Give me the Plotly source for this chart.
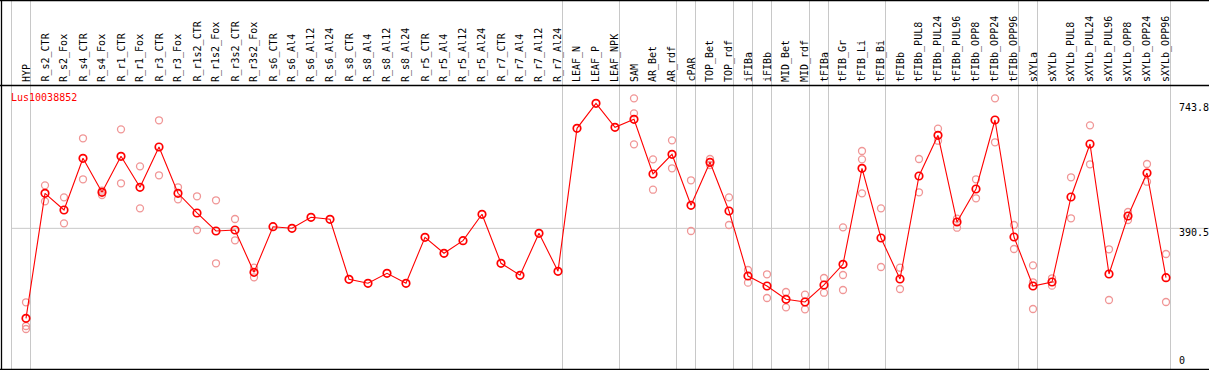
import plotly.graph_objects as go

categories = ["HYP","R_s2_CTR","R_s2_Fox","R_s4_CTR","R_s4_Fox","R_r1_CTR","R_r1_Fox","R_r3_CTR","R_r3_Fox",
              "R_r1s2_CTR","R_r1s2_Fox","R_r3s2_CTR","R_r3s2_Fox","R_s6_CTR","R_s6_Al4","R_s6_Al12","R_s6_Al24",
              "R_s8_CTR","R_s8_Al4","R_s8_Al12","R_s8_Al24","R_r5_CTR","R_r5_Al4","R_r5_Al12","R_r5_Al24",
              "R_r7_CTR","R_r7_Al4","R_r7_Al12","R_r7_Al24","LEAF_N","LEAF_P","LEAF_NPK","SAM","AR_Bet","AR_rdf",
              "cPAR","TOP_Bet","TOP_rdf","iFIBa","iFIBb","MID_Bet","MID_rdf","tFIBa","tFIB_Gr","tFIB_Li","tFIB_Bi",
              "tFIBb","tFIBb_PUL8","tFIBb_PUL24","tFIBb_PUL96","tFIBb_OPP8","tFIBb_OPP24","tFIBb_OPP96",
              "sXYLa","sXYLb","sXYLb_PUL8","sXYLb_PUL24","sXYLb_PUL96","sXYLb_OPP8","sXYLb_OPP24","sXYLb_OPP96"]

mean_values = [136.2,489.5,442.3,588.5,492.4,594.1,506.5,620.4,489.5,
               433.9,383.0,385.8,266.2,395.1,390.6,421.7,416.0,
               246.5,235.2,263.4,235.2,365.2,320.0,355.6,430.2,
               291.7,257.8,376.5,269.1,673.2,743.8,676.1,698.7,544.1,599.8,
               455.6,577.1,439.5,255.8,227.5,189.9,182.3,230.4,288.9,560.2,363.2,
               247.3,538.4,653.5,408.4,501.7,696.7,366.0,
               227.5,238.8,479.1,628.9,261.4,425.4,546.9,251.0]

rep_categories = ["HYP","HYP","HYP","R_s2_CTR","R_s2_CTR","R_s2_Fox","R_s2_Fox","R_s4_CTR","R_s4_CTR",
                  "R_s4_Fox","R_s4_Fox","R_r1_CTR","R_r1_CTR","R_r1_Fox","R_r1_Fox","R_r3_CTR","R_r3_CTR",
                  "R_r3_Fox","R_r3_Fox","R_r1s2_CTR","R_r1s2_CTR","R_r1s2_Fox","R_r1s2_Fox",
                  "R_r3s2_CTR","R_r3s2_CTR","R_r3s2_Fox","R_r3s2_Fox",
                  "SAM","SAM","SAM","AR_Bet","AR_Bet","AR_rdf","AR_rdf","cPAR","cPAR","TOP_Bet","TOP_Bet",
                  "TOP_rdf","TOP_rdf","iFIBa","iFIBa","iFIBb","iFIBb","MID_Bet","MID_Bet","MID_rdf","MID_rdf",
                  "tFIBa","tFIBa","tFIB_Gr","tFIB_Gr","tFIB_Gr","tFIB_Li","tFIB_Li","tFIB_Li","tFIB_Bi","tFIB_Bi",
                  "tFIBb","tFIBb","tFIBb_PUL8","tFIBb_PUL8","tFIBb_PUL24","tFIBb_PUL24","tFIBb_PUL96","tFIBb_PUL96",
                  "tFIBb_OPP8","tFIBb_OPP8","tFIBb_OPP24","tFIBb_OPP24","tFIBb_OPP96","tFIBb_OPP96",
                  "sXYLa","sXYLa","sXYLa","sXYLb","sXYLb","sXYLb_PUL8","sXYLb_PUL8","sXYLb_PUL24","sXYLb_PUL24",
                  "sXYLb_PUL96","sXYLb_PUL96","sXYLb_OPP8","sXYLb_OPP8","sXYLb_OPP24","sXYLb_OPP24",
                  "sXYLb_OPP96","sXYLb_OPP96"]

rep_values = [181.5,114.5,106.0,512.1,466.9,478.2,404.7,645.0,529.1,
              496.9,484.7,670.4,517.8,565.8,447.1,695.9,540.4,
              506.5,472.6,481.1,385.8,469.8,291.7,
              416.9,356.7,279.2,252.1,
              758.0,715.6,628.0,585.6,499.7,639.3,560.2,526.3,383.0,586.5,569.5,
              478.2,399.9,272.7,236.9,260.6,193.6,210.6,167.3,202.9,161.7,
              250.1,208.6,393.4,258.6,216.2,609.1,585.6,489.5,447.1,281.2,
              279.2,219.0,586.5,492.4,672.1,638.2,417.7,392.3,
              529.1,475.4,758.0,633.7,399.9,332.1,
              286.0,238.0,162.5,249.3,228.4,534.8,418.9,681.7,571.5,
              331.3,188.0,436.7,414.1,572.3,522.3,
              318.0,182.3]

group_ends = [None, "HYP", "R_r7_Al24", "LEAF_NPK", "AR_rdf", "cPAR", "TOP_rdf", "iFIBa", "iFIBb",
              "MID_rdf", "tFIBa", "tFIB_Bi", "tFIBb_OPP96", "sXYLa", "sXYLb_OPP96"]

y_tick_values = [0, 390.5, 743.8]
y_tick_labels = ["0", "390.5", "743.8"]
gene_name = "Lus10038852"

W, H = 1209, 370
idx = {c: i for i, c in enumerate(categories)}
FONT = "DejaVu Sans Mono"

def py(pix):
    return (H - pix) / H

fig = go.Figure()
fig.add_trace(go.Scatter(
    x=[idx[c] for c in rep_categories], y=rep_values, mode="markers",
    marker=dict(symbol="circle-open", size=7, color="rgb(240,150,150)", line=dict(width=1.3)),
    hoverinfo="skip", showlegend=False, cliponaxis=False))
fig.add_trace(go.Scatter(
    x=list(range(len(categories))), y=mean_values, mode="lines+markers",
    line=dict(color="#ff0000", width=1.1),
    marker=dict(symbol="circle-open", size=7.5, color="#ff0000", line=dict(width=1.7)),
    showlegend=False, cliponaxis=False))

shapes = []
off = 4.5 / 19
for g in group_ends:
    xv = (-1 if g is None else idx[g]) + off
    shapes.append(dict(type="line", xref="x", yref="paper", x0=xv, x1=xv, y0=0, y1=1,
                       line=dict(color="#c8c8c8", width=1), layer="below"))
shapes.append(dict(type="line", xref="x", yref="y", x0=-1 + off, x1=70, y0=y_tick_values[1], y1=y_tick_values[1],
                   line=dict(color="#c8c8c8", width=1), layer="below"))
# black frame lines
for yy in [0.5, 85.5, 369.5]:
    shapes.append(dict(type="line", xref="paper", yref="paper", x0=0, x1=1, y0=py(yy), y1=py(yy),
                       line=dict(color="black", width=1.3)))
shapes.append(dict(type="line", xref="paper", yref="paper", x0=1.5 / W, x1=1.5 / W, y0=0, y1=1,
                   line=dict(color="black", width=1.3)))

annotations = []
for i, c in enumerate(categories):
    annotations.append(dict(x=i, y=py(84), xref="x", yref="paper", text=c, textangle=-90,
                            xanchor="center", yanchor="bottom", showarrow=False,
                            font=dict(family=FONT, size=10, color="black")))
annotations.append(dict(x=9 / W, y=py(97.5), xref="paper", yref="paper", text=gene_name,
                        xanchor="left", yanchor="middle", showarrow=False,
                        font=dict(family=FONT, size=10, color="#ff0000")))
for v, t in zip(y_tick_values, y_tick_labels):
    if v == 0:
        annotations.append(dict(x=1177 / W, y=py(368), xref="paper", yref="paper", text=t,
                                xanchor="left", yanchor="bottom", showarrow=False,
                                font=dict(family=FONT, size=10, color="black")))
    else:
        annotations.append(dict(x=1177 / W, y=v, xref="paper", yref="y", text=t, yshift=3,
                                xanchor="left", yanchor="top", showarrow=False,
                                font=dict(family=FONT, size=10, color="black")))

fig.update_layout(
    width=W, height=H, margin=dict(l=0, r=0, t=0, b=0),
    paper_bgcolor="white", plot_bgcolor="white",
    xaxis=dict(range=[-26 / 19, (W - 26) / 19], visible=False, domain=[0, 1]),
    yaxis=dict(range=[(366.5 - 370) * 2.8264, 366.5 * 2.8264], visible=False, domain=[0, 1]),
    shapes=shapes, annotations=annotations,
)
fig.write_html("out.html", config={"displayModeBar": False},
               post_script="document.body.style.margin='0';document.body.style.overflow='hidden';")
